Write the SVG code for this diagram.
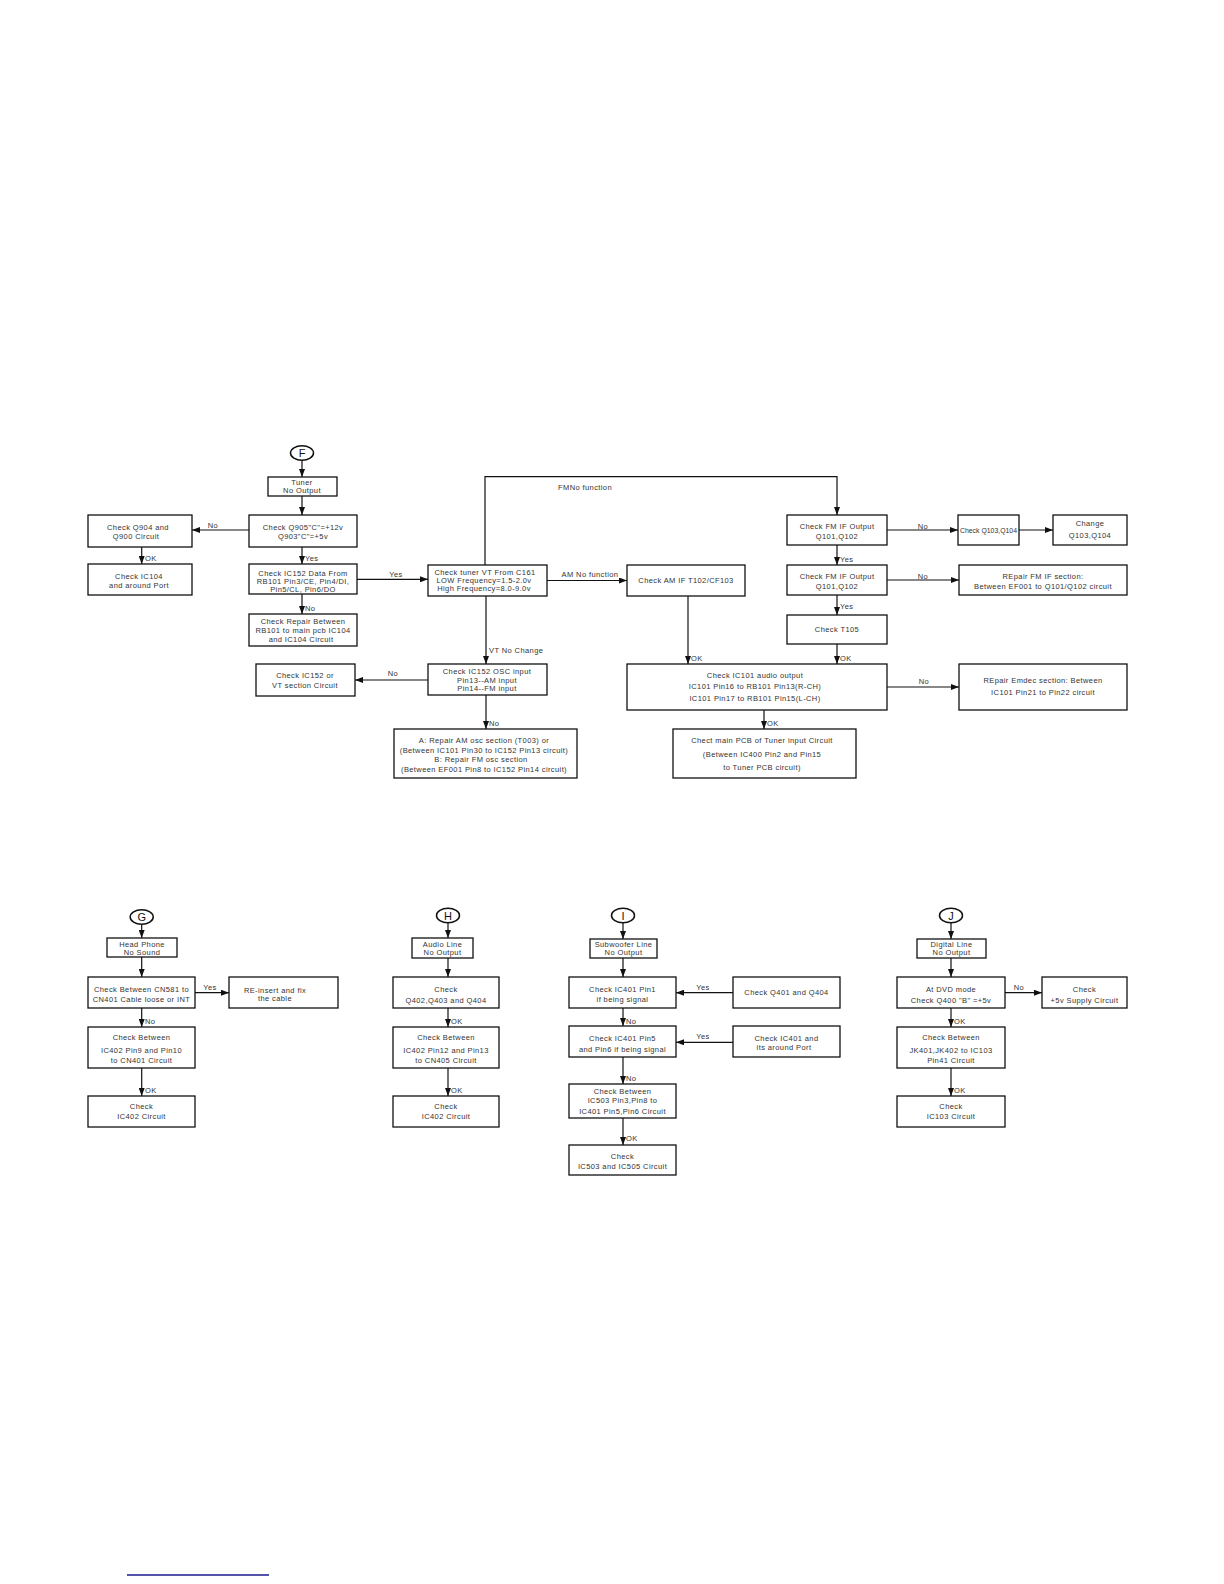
<svg xmlns="http://www.w3.org/2000/svg" width="1224" height="1584" viewBox="0 0 1224 1584">
<style>
.b{fill:#fff;stroke:#111;stroke-width:1.3}
.e{fill:#fff;stroke:#111;stroke-width:1.5}
.t{font-family:"Liberation Sans",Arial,sans-serif;font-size:7.5px;fill:#333;text-anchor:middle;dominant-baseline:central;letter-spacing:0.4px}
.s{text-anchor:start}
.L{font-family:"Liberation Sans",Arial,sans-serif;font-size:11px;fill:#111;text-anchor:middle;dominant-baseline:central}
.c path{fill:none;stroke:#111;stroke-width:1.2;marker-end:url(#ah)}
</style>
<defs>
<marker id="ah" markerUnits="userSpaceOnUse" markerWidth="8" markerHeight="6" refX="8" refY="3" orient="auto">
<path d="M0,0 L8,3 L0,6 z" fill="#111"/>
</marker>
</defs>
<rect width="1224" height="1584" fill="#fff"/>

<!-- ===== Section F ===== -->
<g id="F"><ellipse class="e" cx="302" cy="453" rx="11.5" ry="7.3"/><text class="L" x="302" y="453">F</text></g>
<g id="tuner"><rect class="b" x="268" y="477" width="69" height="19"/><text class="t" x="302" y="482.3">Tuner</text><text class="t" x="302" y="490.7">No Output</text></g>
<g id="q905"><rect class="b" x="249" y="515" width="108" height="32"/><text class="t" x="303" y="527">Check Q905"C"=+12v</text><text class="t" x="303" y="536.5">Q903"C"=+5v</text></g>
<g id="q904"><rect class="b" x="88" y="515" width="104" height="32"/><text class="t" x="138" y="527">Check Q904 and</text><text class="t" x="136" y="536">Q900 Circuit</text></g>
<g id="ic104"><rect class="b" x="88" y="564" width="104" height="31"/><text class="t" x="139" y="576">Check IC104</text><text class="t" x="139" y="585.7">and around Port</text></g>
<g id="ic152data"><rect class="b" x="249" y="564" width="108" height="30"/><text class="t" x="303" y="573.8">Check IC152 Data From</text><text class="t" x="303" y="581.8">RB101  Pin3/CE, Pin4/DI,</text><text class="t" x="303" y="589.3">Pin5/CL, Pin6/DO</text></g>
<g id="repair"><rect class="b" x="249" y="614" width="108" height="32"/><text class="t" x="303" y="621.7">Check Repair Between</text><text class="t" x="303" y="630.7">RB101 to main pcb IC104</text><text class="t" x="301" y="639.3">and IC104 Circuit</text></g>
<g id="ic152or"><rect class="b" x="256" y="664" width="99" height="32"/><text class="t" x="305" y="675.7">Check IC152 or</text><text class="t" x="305" y="685">VT section Circuit</text></g>
<g id="vt"><rect class="b" x="428" y="565" width="119" height="31"/><text class="t" x="485" y="572.7">Check tuner VT From C161</text><text class="t" x="484" y="580.7">LOW Frequency=1.5-2.0v</text><text class="t" x="484" y="588.3">High Frequency=8.0-9.0v</text></g>
<g id="osc"><rect class="b" x="428" y="664" width="119" height="31"/><text class="t" x="487" y="671.5">Check IC152 OSC input</text><text class="t" x="487" y="680.5">Pin13--AM input</text><text class="t" x="487" y="688">Pin14--FM input</text></g>
<g id="ab"><rect class="b" x="394" y="729" width="183" height="49"/><text class="t" x="484" y="740.7">A: Repair AM osc section (T003) or</text><text class="t" x="484" y="750">(Between IC101 Pin30 to IC152 Pin13 circuit)</text><text class="t" x="481" y="759.3">B: Repair FM osc section</text><text class="t" x="484" y="769">(Between EF001 Pin8 to IC152 Pin14 circuit)</text></g>
<g id="amif"><rect class="b" x="627" y="565" width="118" height="31"/><text class="t" x="686" y="580.7">Check AM IF T102/CF103</text></g>
<g id="fmif1"><rect class="b" x="787" y="515" width="100" height="30"/><text class="t" x="837" y="526.7">Check FM IF Output</text><text class="t" x="837" y="536.7">Q101,Q102</text></g>
<g id="q103"><rect class="b" x="958" y="515" width="61" height="30"/><text class="t" x="988.5" y="530.7" style="letter-spacing:0px" textLength="57" lengthAdjust="spacingAndGlyphs">Check Q103,Q104</text></g>
<g id="change"><rect class="b" x="1053" y="515" width="74" height="30"/><text class="t" x="1090" y="523.3">Change</text><text class="t" x="1090" y="535.7">Q103,Q104</text></g>
<g id="fmif2"><rect class="b" x="787" y="565" width="100" height="30"/><text class="t" x="837" y="576">Check FM IF Output</text><text class="t" x="837" y="586.7">Q101,Q102</text></g>
<g id="repfm"><rect class="b" x="959" y="565" width="168" height="30"/><text class="t" x="1043" y="576">REpair FM IF section:</text><text class="t" x="1043" y="586.7">Between EF001 to Q101/Q102 circuit</text></g>
<g id="t105"><rect class="b" x="787" y="615" width="100" height="29"/><text class="t" x="837" y="629.3">Check T105</text></g>
<g id="ic101"><rect class="b" x="627" y="664" width="260" height="46"/><text class="t" x="755" y="675">Check IC101 audio output</text><text class="t" x="755" y="686.7">IC101 Pin16 to RB101 Pin13(R-CH)</text><text class="t" x="755" y="698.3">IC101 Pin17 to RB101 Pin15(L-CH)</text></g>
<g id="emdec"><rect class="b" x="959" y="664" width="168" height="46"/><text class="t" x="1043" y="680">REpair Emdec section: Between</text><text class="t" x="1043" y="692.3">IC101 Pin21 to Pin22 circuit</text></g>
<g id="mainpcb"><rect class="b" x="673" y="729" width="183" height="49"/><text class="t" x="762" y="740">Chect main PCB of Tuner input Circuit</text><text class="t" x="762" y="754">(Between IC400 Pin2 and Pin15</text><text class="t" x="762" y="767.3">to Tuner PCB circuit)</text></g>

<!-- ===== Section G ===== -->
<g id="G"><ellipse class="e" cx="141.7" cy="917" rx="11.5" ry="7.2"/><text class="L" x="141.7" y="917">G</text></g>
<g id="headphone"><rect class="b" x="107" y="938" width="70" height="19"/><text class="t" x="142" y="944">Head Phone</text><text class="t" x="142" y="952.3">No Sound</text></g>
<g id="cn581"><rect class="b" x="88" y="977" width="107" height="31"/><text class="t" x="141.5" y="989">Check Between CN581 to</text><text class="t" x="141.5" y="999.3">CN401 Cable loose or INT</text></g>
<g id="reinsert"><rect class="b" x="229" y="977" width="109" height="31"/><text class="t" x="275" y="990">RE-insert and fix</text><text class="t" x="275" y="998.3">the cable</text></g>
<g id="g_between"><rect class="b" x="88" y="1027" width="107" height="41"/><text class="t" x="141.5" y="1037.7">Check Between</text><text class="t" x="141.5" y="1050">IC402 Pin9 and Pin10</text><text class="t" x="141.5" y="1060.7">to CN401 Circuit</text></g>
<g id="g_ic402"><rect class="b" x="88" y="1096" width="107" height="31"/><text class="t" x="141.5" y="1106.7">Check</text><text class="t" x="141.5" y="1116.7">IC402 Circuit</text></g>

<!-- ===== Section H ===== -->
<g id="H"><ellipse class="e" cx="448" cy="915.5" rx="11.5" ry="7.2"/><text class="L" x="448" y="915.5">H</text></g>
<g id="audioline"><rect class="b" x="412" y="938" width="61" height="20"/><text class="t" x="442.5" y="944">Audio Line</text><text class="t" x="442.5" y="952">No Output</text></g>
<g id="q402"><rect class="b" x="393" y="977" width="106" height="31"/><text class="t" x="446" y="989">Check</text><text class="t" x="446" y="1000">Q402,Q403 and Q404</text></g>
<g id="h_between"><rect class="b" x="393" y="1027" width="106" height="41"/><text class="t" x="446" y="1037.7">Check Between</text><text class="t" x="446" y="1050">IC402 Pin12 and Pin13</text><text class="t" x="446" y="1060.7">to CN405 Circuit</text></g>
<g id="h_ic402"><rect class="b" x="393" y="1096" width="106" height="31"/><text class="t" x="446" y="1106.7">Check</text><text class="t" x="446" y="1116.7">IC402 Circuit</text></g>

<!-- ===== Section I ===== -->
<g id="I"><ellipse class="e" cx="623" cy="915.5" rx="11.5" ry="7.2"/><text class="L" x="623" y="915.5">I</text></g>
<g id="subwoofer"><rect class="b" x="590" y="939" width="67" height="19"/><text class="t" x="623.5" y="944.7">Subwoofer Line</text><text class="t" x="623.5" y="952">No Output</text></g>
<g id="pin1"><rect class="b" x="569" y="977" width="107" height="31"/><text class="t" x="622.5" y="989">Check IC401 Pin1</text><text class="t" x="622.5" y="999">if being signal</text></g>
<g id="q401"><rect class="b" x="733" y="977" width="107" height="31"/><text class="t" x="786.5" y="992.7">Check Q401 and Q404</text></g>
<g id="pin5"><rect class="b" x="569" y="1026" width="107" height="31"/><text class="t" x="622.5" y="1038.3">Check IC401 Pin5</text><text class="t" x="622.5" y="1049.3">and Pin6 if being signal</text></g>
<g id="ic401around"><rect class="b" x="733" y="1026" width="107" height="31"/><text class="t" x="786.5" y="1038.3">Check IC401 and</text><text class="t" x="784" y="1047.7">its around Port</text></g>
<g id="i_between"><rect class="b" x="569" y="1084" width="107" height="34"/><text class="t" x="622.5" y="1091">Check Between</text><text class="t" x="622.5" y="1100.7">IC503 Pin3,Pin8 to</text><text class="t" x="622.5" y="1111">IC401 Pin5,Pin6 Circuit</text></g>
<g id="ic503"><rect class="b" x="569" y="1145" width="107" height="30"/><text class="t" x="622.5" y="1156.7">Check</text><text class="t" x="622.5" y="1166">IC503 and IC505 Circuit</text></g>

<!-- ===== Section J ===== -->
<g id="J"><ellipse class="e" cx="951" cy="915.5" rx="11.5" ry="7.2"/><text class="L" x="951" y="915.5">J</text></g>
<g id="digital"><rect class="b" x="917" y="939" width="69" height="19"/><text class="t" x="951.5" y="944.7">Digital Line</text><text class="t" x="951.5" y="952">No Output</text></g>
<g id="dvd"><rect class="b" x="897" y="977" width="108" height="31"/><text class="t" x="951" y="989">At DVD mode</text><text class="t" x="951" y="1000">Check Q400 "B" =+5v</text></g>
<g id="supply"><rect class="b" x="1042" y="977" width="85" height="31"/><text class="t" x="1084.5" y="989">Check</text><text class="t" x="1084.5" y="1000">+5v Supply Circuit</text></g>
<g id="j_between"><rect class="b" x="897" y="1027" width="108" height="41"/><text class="t" x="951" y="1037.7">Check Between</text><text class="t" x="951" y="1050">JK401,JK402 to IC103</text><text class="t" x="951" y="1060.7">Pin41 Circuit</text></g>
<g id="ic103"><rect class="b" x="897" y="1096" width="108" height="31"/><text class="t" x="951" y="1106.7">Check</text><text class="t" x="951" y="1116.7">IC103 Circuit</text></g>

<!-- ===== Connectors ===== -->
<g id="connectors" class="c">
<path d="M302,460.3 V477"/>
<path d="M302,496 V515"/>
<path d="M249,530 H192"/>
<path d="M141.7,547 V564"/>
<path d="M302,547 V564"/>
<path d="M302,594 V614"/>
<path d="M357,579.3 H428"/>
<path d="M547,580.5 H627"/>
<path d="M485,565 V476.7 H837 V515"/>
<path d="M486,596 V664"/>
<path d="M428,680 H355"/>
<path d="M486,695 V729"/>
<path d="M688,596 V664"/>
<path d="M887,530 H958"/>
<path d="M1019,530 H1053"/>
<path d="M837,545 V565"/>
<path d="M887,580 H959"/>
<path d="M837,595 V615"/>
<path d="M837,644 V664"/>
<path d="M887,687 H959"/>
<path d="M764,710 V729"/>
<path d="M141.7,924.2 V938"/>
<path d="M141.7,957 V977"/>
<path d="M195,992.7 H229"/>
<path d="M141.7,1008 V1027"/>
<path d="M141.7,1068 V1096"/>
<path d="M448,922.7 V938"/>
<path d="M448,958 V977"/>
<path d="M448,1008 V1027"/>
<path d="M448,1068 V1096"/>
<path d="M623,922.7 V939"/>
<path d="M623,958 V977"/>
<path d="M733,992.7 H676"/>
<path d="M623,1008 V1026"/>
<path d="M733,1042.3 H676"/>
<path d="M623,1057 V1084"/>
<path d="M623,1118 V1145"/>
<path d="M951,922.7 V939"/>
<path d="M951,958 V977"/>
<path d="M1005,992.7 H1042"/>
<path d="M951,1008 V1027"/>
<path d="M951,1068 V1096"/>
</g>

<!-- ===== Connector labels ===== -->
<g id="labels">
<text class="t" x="213" y="525">No</text>
<text class="t s" x="145" y="558.3">OK</text>
<text class="t s" x="305" y="558.3">Yes</text>
<text class="t s" x="305" y="608.3">No</text>
<text class="t" x="396" y="574.3">Yes</text>
<text class="t" x="585" y="487">FMNo function</text>
<text class="t" x="590" y="574.3">AM No function</text>
<text class="t s" x="489" y="650.7">VT No Change</text>
<text class="t" x="393" y="673.3">No</text>
<text class="t s" x="489" y="723">No</text>
<text class="t s" x="691" y="658">OK</text>
<text class="t s" x="840" y="658">OK</text>
<text class="t" x="923" y="526">No</text>
<text class="t s" x="840" y="559.3">Yes</text>
<text class="t" x="923" y="576">No</text>
<text class="t s" x="840" y="606.7">Yes</text>
<text class="t" x="924" y="681">No</text>
<text class="t s" x="767" y="723">OK</text>
<text class="t" x="210" y="987">Yes</text>
<text class="t s" x="145" y="1021">No</text>
<text class="t s" x="145" y="1090">OK</text>
<text class="t s" x="451" y="1021">OK</text>
<text class="t s" x="451" y="1090">OK</text>
<text class="t" x="703" y="987">Yes</text>
<text class="t" x="703" y="1036.7">Yes</text>
<text class="t s" x="626" y="1021">No</text>
<text class="t s" x="626" y="1078">No</text>
<text class="t s" x="626" y="1138">OK</text>
<text class="t" x="1019" y="987">No</text>
<text class="t s" x="954" y="1021">OK</text>
<text class="t s" x="954" y="1090">OK</text>
</g>

<path d="M127,1575 H269" stroke="#1a1a8c" stroke-width="1.3" fill="none"/>
</svg>
